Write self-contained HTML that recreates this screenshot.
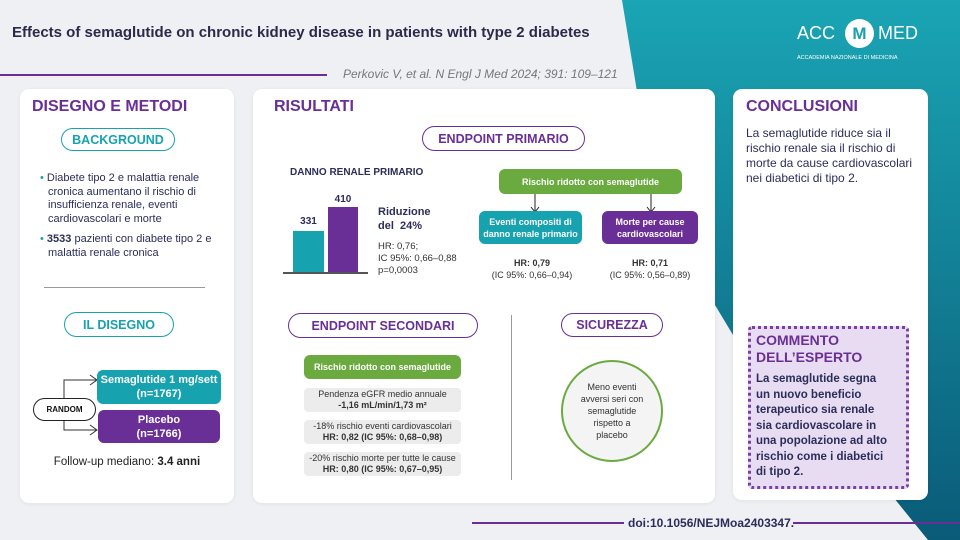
<!DOCTYPE html>
<html><head><meta charset="utf-8"><style>
*{margin:0;padding:0;box-sizing:border-box}
body{width:960px;height:540px;overflow:hidden;background:#eef0f3;font-family:"Liberation Sans",sans-serif;position:relative;color:#2b2d5a}
.a{position:absolute}
.panel{position:absolute;background:#fff;border-radius:9px;box-shadow:0 1px 4px rgba(0,0,0,.06)}
.h{position:absolute;font-weight:bold;color:#6a2f96;font-size:16px}
.pill{position:absolute;border:1.5px solid #6a2f96;border-radius:14px;color:#6a2f96;font-weight:bold;font-size:12.5px;display:flex;align-items:center;justify-content:center}
.box{position:absolute;border-radius:6px;color:#fff;font-weight:bold;display:flex;align-items:center;justify-content:center;text-align:center;font-size:9px;line-height:12px}
.g{position:absolute;background:#ececec;border-radius:4px;font-size:9px;line-height:11px;text-align:center;display:flex;flex-direction:column;justify-content:center;color:#333}
.c{text-align:center;font-size:9px;line-height:12px;color:#333}
</style></head><body>
<svg class="a" style="left:0;top:0" width="960" height="540">
<defs><linearGradient id="tg" x1="0" y1="0" x2="0" y2="1"><stop offset="0" stop-color="#1aa5b4"/><stop offset="1" stop-color="#0a5b78"/></linearGradient></defs>
<polygon points="622,0 960,0 960,540 928,540 855,450 760,380 712,300 640,110" fill="url(#tg)"/>
<line x1="0" y1="75" x2="327" y2="75" stroke="#6a2f96" stroke-width="2"/>
<line x1="472" y1="523" x2="624" y2="523" stroke="#6a2f96" stroke-width="2"/>
<line x1="793" y1="523" x2="960" y2="523" stroke="#6a2f96" stroke-width="2"/>
</svg>
<div class="a" style="left:12px;top:24px;font-size:15px;font-weight:bold;color:#2a2a4a">Effects of semaglutide on chronic kidney disease in patients with type 2 diabetes</div>
<div class="a" style="left:343px;top:67px;font-size:12px;font-style:italic;color:#777">Perkovic V, et al. N Engl J Med 2024; 391: 109–121</div>
<div class="a" style="left:797px;top:23px;color:#fff;font-size:18px">ACC</div>
<div class="a" style="left:845px;top:19px;width:29px;height:29px;border-radius:50%;background:#fff;color:#1a9fb0;font-weight:bold;font-size:17px;text-align:center;line-height:29px">M</div>
<div class="a" style="left:878px;top:23px;color:#fff;font-size:18px">MED</div>
<div class="a" style="left:797px;top:55px;color:#fff;font-size:5.5px">ACCADEMIA NAZIONALE DI MEDICINA</div>

<div class="panel" style="left:20px;top:89px;width:214px;height:414px"></div>
<div class="panel" style="left:253px;top:89px;width:462px;height:414px"></div>
<div class="panel" style="left:733px;top:89px;width:195px;height:411px"></div>

<div class="h" style="left:32px;top:98px">DISEGNO E METODI</div>
<div class="pill" style="left:61px;top:128px;width:114px;height:23px;border-color:#17a2b0;color:#17a2b0">BACKGROUND</div>
<div class="a" style="left:38px;top:172px;width:190px;font-size:11px;line-height:13.5px;color:#2b2d5a">
<div style="padding-left:10px;text-indent:-8px"><span style="color:#17a2b0">•</span> Diabete tipo 2 e malattia renale cronica aumentano il rischio di insufficienza renale, eventi cardiovascolari e morte</div>
<div style="padding-left:10px;text-indent:-8px;margin-top:7px"><span style="color:#17a2b0">•</span> <b>3533</b> pazienti con diabete tipo 2 e malattia renale cronica</div></div>
<div class="a" style="left:44px;top:287px;width:161px;height:1px;background:#999"></div>
<div class="pill" style="left:64px;top:312px;width:110px;height:25px;border-color:#17a2b0;color:#17a2b0">IL DISEGNO</div>
<svg class="a" style="left:0;top:0" width="240" height="500">
<polyline points="64,398 64,380 97,380" fill="none" stroke="#333" stroke-width="1"/>
<polyline points="90,375 97,380 90,385" fill="none" stroke="#333"/>
<polyline points="64,421 64,430 97,430" fill="none" stroke="#333" stroke-width="1"/>
<polyline points="90,425 97,430 90,435" fill="none" stroke="#333"/>
</svg>
<div class="a" style="left:33px;top:398px;width:63px;height:23px;border:1.3px solid #222;border-radius:12px;background:#fff;font-size:8px;font-weight:bold;color:#111;text-align:center;line-height:21px">RANDOM</div>
<div class="box" style="left:97px;top:370px;width:124px;height:34px;background:#17a2b0;font-size:11px;line-height:14px">Semaglutide 1 mg/sett<br>(n=1767)</div>
<div class="box" style="left:98px;top:410px;width:122px;height:33px;background:#6a2f96;font-size:11px;line-height:14px">Placebo<br>(n=1766)</div>
<div class="a" style="left:20px;top:456px;width:214px;text-align:center;font-size:11.5px;color:#222">Follow-up mediano: <b>3.4 anni</b></div>

<div class="h" style="left:274px;top:98px">RISULTATI</div>
<div class="pill" style="left:422px;top:126px;width:163px;height:25px">ENDPOINT PRIMARIO</div>
<div class="a" style="left:290px;top:167px;font-size:10px;font-weight:bold;color:#2b2d5a">DANNO RENALE PRIMARIO</div>
<div class="a" style="left:293px;top:231px;width:31px;height:42px;background:#17a2b0"></div>
<div class="a" style="left:328px;top:207px;width:30px;height:66px;background:#6a2f96"></div>
<div class="a" style="left:283px;top:272px;width:85px;height:1.5px;background:#555"></div>
<div class="a" style="left:293px;top:216px;width:31px;text-align:center;font-size:10px;font-weight:bold">331</div>
<div class="a" style="left:328px;top:194px;width:30px;text-align:center;font-size:10px;font-weight:bold">410</div>
<div class="a" style="left:378px;top:205px;font-size:11px;font-weight:bold;line-height:14px">Riduzione<br>del &nbsp;24%</div>
<div class="a" style="left:378px;top:241px;font-size:9.5px;line-height:12px;color:#333">HR: 0,76;<br>IC 95%: 0,66–0,88<br>p=0,0003</div>
<div class="box" style="left:499px;top:169px;width:183px;height:25px;background:#6aaa3f">Rischio ridotto con semaglutide</div>
<svg class="a" style="left:0;top:0" width="720" height="260">
<line x1="535" y1="194" x2="535" y2="211" stroke="#222"/><polyline points="531,207 535,212 539,207" fill="none" stroke="#222"/>
<line x1="651" y1="194" x2="651" y2="211" stroke="#222"/><polyline points="647,207 651,212 655,207" fill="none" stroke="#222"/>
</svg>
<div class="box" style="left:479px;top:211px;width:103px;height:33px;background:#17a2b0">Eventi compositi di<br>danno renale primario</div>
<div class="box" style="left:602px;top:211px;width:96px;height:33px;background:#6a2f96">Morte per cause<br>cardiovascolari</div>
<div class="a c" style="left:472px;top:257px;width:120px"><b>HR: 0,79</b><br>(IC 95%: 0,66–0,94)</div>
<div class="a c" style="left:590px;top:257px;width:120px"><b>HR: 0,71</b><br>(IC 95%: 0,56–0,89)</div>
<div class="a" style="left:511px;top:315px;width:1px;height:165px;background:#999"></div>
<div class="pill" style="left:288px;top:313px;width:190px;height:25px">ENDPOINT SECONDARI</div>
<div class="box" style="left:304px;top:355px;width:157px;height:24px;background:#6aaa3f">Rischio ridotto con semaglutide</div>
<div class="g" style="left:304px;top:388px;width:157px;height:24px"><span>Pendenza eGFR medio annuale</span><b>-1,16 mL/min/1,73 m²</b></div>
<div class="g" style="left:304px;top:420px;width:157px;height:24px"><span>-18% rischio eventi cardiovascolari</span><b>HR: 0,82 (IC 95%: 0,68–0,98)</b></div>
<div class="g" style="left:304px;top:452px;width:157px;height:24px"><span>-20% rischio morte per tutte le cause</span><b>HR: 0,80 (IC 95%: 0,67–0,95)</b></div>
<div class="pill" style="left:561px;top:313px;width:102px;height:24px">SICUREZZA</div>
<div class="a" style="left:561px;top:360px;width:102px;height:102px;border:2px solid #6aaa3f;border-radius:50%;background:#f4f4f4;display:flex;align-items:center;justify-content:center;text-align:center;font-size:9px;line-height:12px;color:#333">Meno eventi<br>avversi seri con<br>semaglutide<br>rispetto a<br>placebo</div>

<div class="h" style="left:746px;top:98px">CONCLUSIONI</div>
<div class="a" style="left:746px;top:126px;width:180px;font-size:12px;line-height:15px;color:#2b2d5a">La semaglutide riduce sia il<br>rischio renale sia il rischio di<br>morte da cause cardiovascolari<br>nei diabetici di tipo 2.</div>
<div class="a" style="left:748px;top:326px;width:161px;height:163px;background:#e7dcf1;border:3px dotted #7a3fa6;border-radius:4px"></div>
<div class="a" style="left:756px;top:332px;font-size:14px;font-weight:bold;color:#6a2f96;line-height:17px">COMMENTO<br>DELL’ESPERTO</div>
<div class="a" style="left:756px;top:372px;width:150px;font-size:11.5px;font-weight:bold;line-height:15.5px;color:#2b2d5a">La semaglutide segna<br>un nuovo beneficio<br>terapeutico sia renale<br>sia cardiovascolare in<br>una popolazione ad alto<br>rischio come i diabetici<br>di tipo 2.</div>

<div class="a" style="left:628px;top:516px;width:160px;text-align:center;font-size:12px;font-weight:bold;color:#2b2d5a">doi:10.1056/NEJMoa2403347.</div>
</body></html>
